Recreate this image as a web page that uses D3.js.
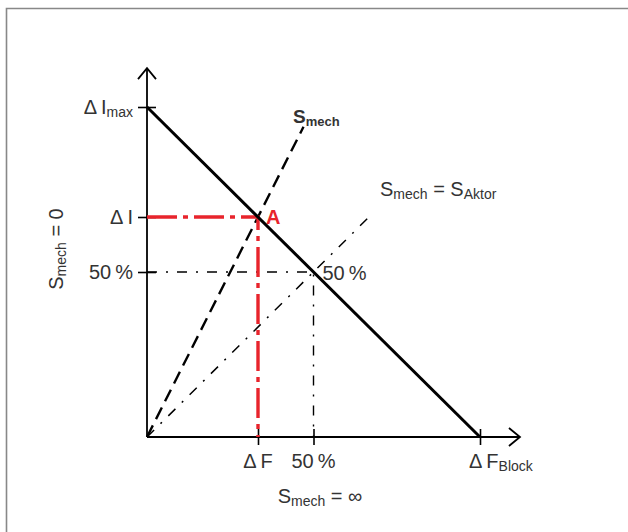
<!DOCTYPE html>
<html>
<head>
<meta charset="utf-8">
<script src="https://cdn.jsdelivr.net/npm/d3@7"></script>
<style>
    body { margin: 0; background: #fff; }
    svg { display: block; }
    text { font-family: "Liberation Sans", Arial, sans-serif; fill: #333; }
</style>
</head>
<body>
<div id="chart"></div>
<script>
// values relative to ΔF_Block (x) and ΔI_max (y)
const xTickValues = [1 / 3, 0.5, 1];
const xTickLabels = [["Δ\u2009F", ""], ["50\u2009%", ""], ["Δ\u2009F", "Block"]];
const yTickValues = [1, 2 / 3, 0.5];
const yTickLabels = [["Δ\u2009I", "max"], ["Δ\u2009I", ""], ["50\u2009%", ""]];

const actuatorLine = [[0, 1], [1, 0]];
const mechLine = [[0, 0], [0.47, 0.94]];
const matchedLine = [[0, 0], [0.68, 0.68]];
const pointA = [1 / 3, 2 / 3];
const halfPoint = [0.5, 0.5];
const axisEnd = [1.12, 1.118];

render();

function render() {
    const width = 628, height = 532;
    const svg = d3.select('#chart').append('svg')
        .attr('width', width)
        .attr('height', height);

    // frame
    svg.append('path')
        .attr('d', 'M6.5,532 V8.5 H628')
        .attr('fill', 'none')
        .attr('stroke', '#888')
        .attr('stroke-width', 1.6);

    const x = d3.scaleLinear().domain([0, 1]).range([147, 480]);
    const y = d3.scaleLinear().domain([0, 1]).range([437, 107]);
    const line = d3.line().x(d => x(d[0])).y(d => y(d[1]));

    const g = svg.append('g');

    // axes
    const xAxis = g.append('g')
        .attr('transform', `translate(0,${y(0)})`)
        .call(d3.axisBottom(x).tickValues(xTickValues).tickSize(8).tickFormat(''));
    xAxis.select('.domain').remove();
    xAxis.selectAll('.tick line').attr('y1', -8).attr('stroke', '#000').attr('stroke-width', 1.6);

    const yAxis = g.append('g')
        .attr('transform', `translate(${x(0)},0)`)
        .call(d3.axisLeft(y).tickValues(yTickValues).tickSize(9).tickFormat(''));
    yAxis.select('.domain').remove();
    yAxis.selectAll('.tick line').attr('x1', 9).attr('stroke', '#000').attr('stroke-width', 1.6);

    g.append('path')
        .attr('d', line([[0, 0], [axisEnd[0], 0]]))
        .attr('stroke', '#000').attr('stroke-width', 1.8);
    g.append('path')
        .attr('d', line([[0, 0], [0, axisEnd[1]]]))
        .attr('stroke', '#000').attr('stroke-width', 1.8);

    // open arrow heads
    const ax = x(axisEnd[0]), ay = y(axisEnd[1]);
    g.append('path')
        .attr('d', `M${ax - 11},${y(0) - 9} L${ax},${y(0)} L${ax - 11},${y(0) + 9}`)
        .attr('fill', 'none').attr('stroke', '#000').attr('stroke-width', 1.8);
    g.append('path')
        .attr('d', `M${x(0) - 9},${ay + 11} L${x(0)},${ay} L${x(0) + 9},${ay + 11}`)
        .attr('fill', 'none').attr('stroke', '#000').attr('stroke-width', 1.8);

    // 50% guides (thin dash-dot)
    g.append('path')
        .attr('d', line([[0, halfPoint[1]], halfPoint, [halfPoint[0], 0]]))
        .attr('fill', 'none').attr('stroke', '#000').attr('stroke-width', 1.4)
        .attr('stroke-dasharray', '10,9,2,9');

    // S_mech = S_Aktor
    g.append('path')
        .attr('d', line(matchedLine))
        .attr('fill', 'none').attr('stroke', '#000').attr('stroke-width', 1.5)
        .attr('stroke-dasharray', '10,9,2,9');

    // S_mech dashed
    g.append('path')
        .attr('d', line(mechLine))
        .attr('fill', 'none').attr('stroke', '#000').attr('stroke-width', 2.4)
        .attr('stroke-dasharray', '13,7');

    // red guides to A
    g.append('path')
        .attr('d', line([[0, pointA[1]], pointA, [pointA[0], 0]]))
        .attr('fill', 'none').attr('stroke', '#e8242c').attr('stroke-width', 3.4)
        .attr('stroke-dasharray', '30,6,5,6');

    // actuator characteristic
    g.append('path')
        .attr('d', line(actuatorLine))
        .attr('fill', 'none').attr('stroke', '#000').attr('stroke-width', 3);

    // labels with subscripts
    function label(parent, px, py, main, sub, opts = {}) {
        const t = parent.append('text')
            .attr('x', px).attr('y', py)
            .attr('text-anchor', opts.anchor || 'start')
            .style('font-size', (opts.size || 20) + 'px')
            .style('font-weight', opts.bold ? 'bold' : 'normal');
        if (opts.color) t.style('fill', opts.color);
        t.append('tspan').text(main);
        if (sub) {
            t.append('tspan').text(sub)
                .attr('dy', 3)
                .style('font-size', (opts.subSize || 14) + 'px');
        }
        if (opts.rest) {
            t.append('tspan').text(opts.rest)
                .attr('dy', sub ? -3 : 0);
        }
        return t;
    }

    yTickValues.forEach((v, i) => {
        label(g, 133, y(v) + 7, yTickLabels[i][0], yTickLabels[i][1], { anchor: 'end' });
    });
    xTickValues.forEach((v, i) => {
        const sub = xTickLabels[i][1];
        label(g, sub ? x(v) - 11 : x(v), y(0) + 31, xTickLabels[i][0], sub,
            { anchor: sub ? 'start' : 'middle' });
    });

    label(g, x(halfPoint[0]) + 9, y(halfPoint[1]) + 8, '50\u2009%', '');
    label(g, x(pointA[0]) + 8, y(pointA[1]) + 7, 'A', '', { bold: true, color: '#e8242c', size: 20 });
    label(g, 293, 123, 'S', 'mech', { bold: true, size: 19, subSize: 13 });
    label(g, 380, 196, 'S', 'mech', { rest: ' = S' })
        .append('tspan').text('Aktor').attr('dy', 3).style('font-size', '14px');
    label(g, 320, 503, 'S', 'mech', { rest: ' =  ∞', anchor: 'middle' });

    const rot = g.append('g').attr('transform', 'translate(63,249) rotate(-90)');
    label(rot, 0, 0, 'S', 'mech', { rest: ' = 0', anchor: 'middle' });
}
</script>
</body>
</html>
